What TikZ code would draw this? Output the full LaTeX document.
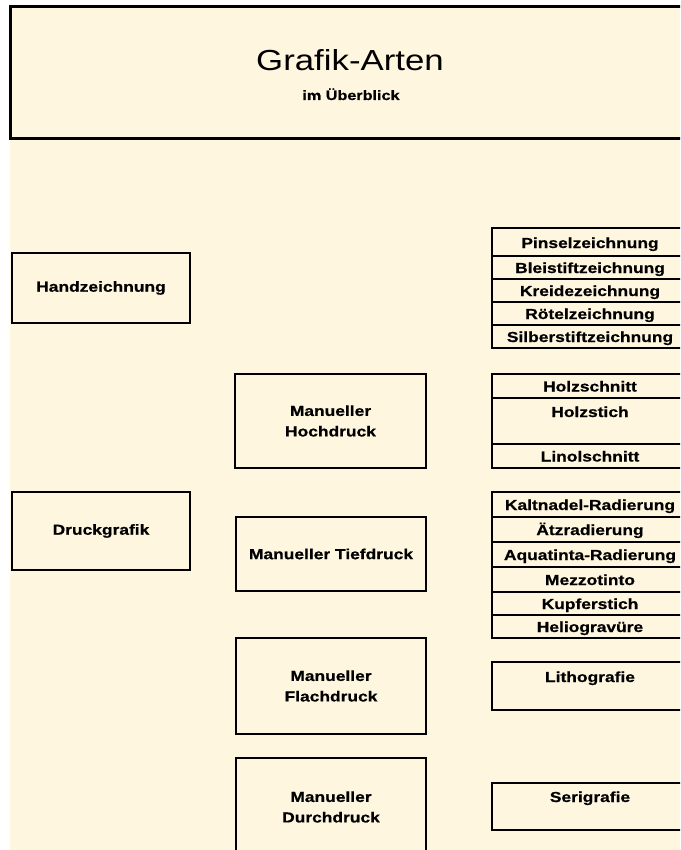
\documentclass[tikz,border=0pt]{standalone}
\usepackage{fontspec}
\setmainfont{Liberation Sans}[FakeStretch=1.2, BoldFeatures={FakeBold=0.7}]
\definecolor{cream}{RGB}{255,246,223}
\begin{document}
\begin{tikzpicture}[x=1pt,y=-1pt,
  frame/.style={draw=black, line width=2.8pt},
  box/.style={draw=black, line width=2.8pt, rectangle, inner sep=0pt,
    align=center, font=\fontsize{14.5}{20.5}\selectfont\bfseries},
  sep/.style={draw=black, line width=1.2pt},
  cell/.style={anchor=base, inner sep=0pt, font=\fontsize{14.5}{17}\selectfont\bfseries}]
\useasboundingbox (0,0) rectangle (680,850);
\begin{scope}
\clip (0,0) rectangle (680,850);
\fill[cream] (10,7) rectangle (680,850);
% title
\draw[frame, line width=3pt] (10,7) rectangle (692,139);
\node[anchor=base, inner sep=0pt, font=\fontsize{29}{29}\selectfont] (title) at (350,71) {Grafik-Arten};
\node[anchor=base, inner sep=0pt, font=\fontsize{13.5}{14}\selectfont\bfseries] (sub) at (351,100) {im Überblick};
% left column
\node[box, minimum width=178pt, minimum height=70pt] (hand) at (101,288) {Handzeichnung};
\node[box, minimum width=178pt, minimum height=78pt] (druck) at (101,531) {Druckgrafik};
% middle column
\node[box, minimum width=191pt, minimum height=94pt] (hoch) at (330.5,421) {Manueller\\Hochdruck};
\node[box, minimum width=190pt, minimum height=74pt] (tief) at (331,554) {Manueller Tiefdruck};
\node[box, minimum width=190pt, minimum height=96pt] (flach) at (331,686) {Manueller\\Flachdruck};
\node[box, minimum width=190pt, minimum height=98pt] (durch) at (331,807) {Manueller\\Durchdruck};
% right column: drawing list
\draw[frame] (492,228) rectangle (688,348);
\foreach \yy in {256,279,302,325} \draw[sep] (492,\yy) -- (688,\yy);
\node[cell] (pinsel) at (590,248) {Pinselzeichnung};
\node[cell] (blei) at (590,273) {Bleistiftzeichnung};
\node[cell] (kreide) at (590,296) {Kreidezeichnung};
\node[cell] (roetel) at (590,319) {Rötelzeichnung};
\node[cell] (silber) at (590,342) {Silberstiftzeichnung};
% Hochdruck list
\draw[frame] (492,374) rectangle (688,468);
\foreach \yy in {398,444} \draw[sep] (492,\yy) -- (688,\yy);
\node[cell] (holzschnitt) at (590,391.5) {Holzschnitt};
\node[cell] (holzstich) at (590,417) {Holzstich};
\node[cell] (linol) at (590,461.5) {Linolschnitt};
% Tiefdruck list
\draw[frame] (492,492) rectangle (688,638);
\foreach \yy in {517,542,567,592,615} \draw[sep] (492,\yy) -- (688,\yy);
\node[cell] (kalt) at (590,510) {Kaltnadel-Radierung};
\node[cell] (aetz) at (590,535) {Ätzradierung};
\node[cell] (aqua) at (590,560) {Aquatinta-Radierung};
\node[cell] (mezzo) at (590,585) {Mezzotinto};
\node[cell] (kupfer) at (590,609) {Kupferstich};
\node[cell] (helio) at (590,632) {Heliogravüre};
% Flachdruck / Durchdruck
\draw[frame] (492,662) rectangle (688,710);
\node[cell] (litho) at (590,682) {Lithografie};
\draw[frame] (492,783) rectangle (688,830);
\node[cell] (seri) at (590,802) {Serigrafie};
\end{scope}
\end{tikzpicture}
\end{document}
